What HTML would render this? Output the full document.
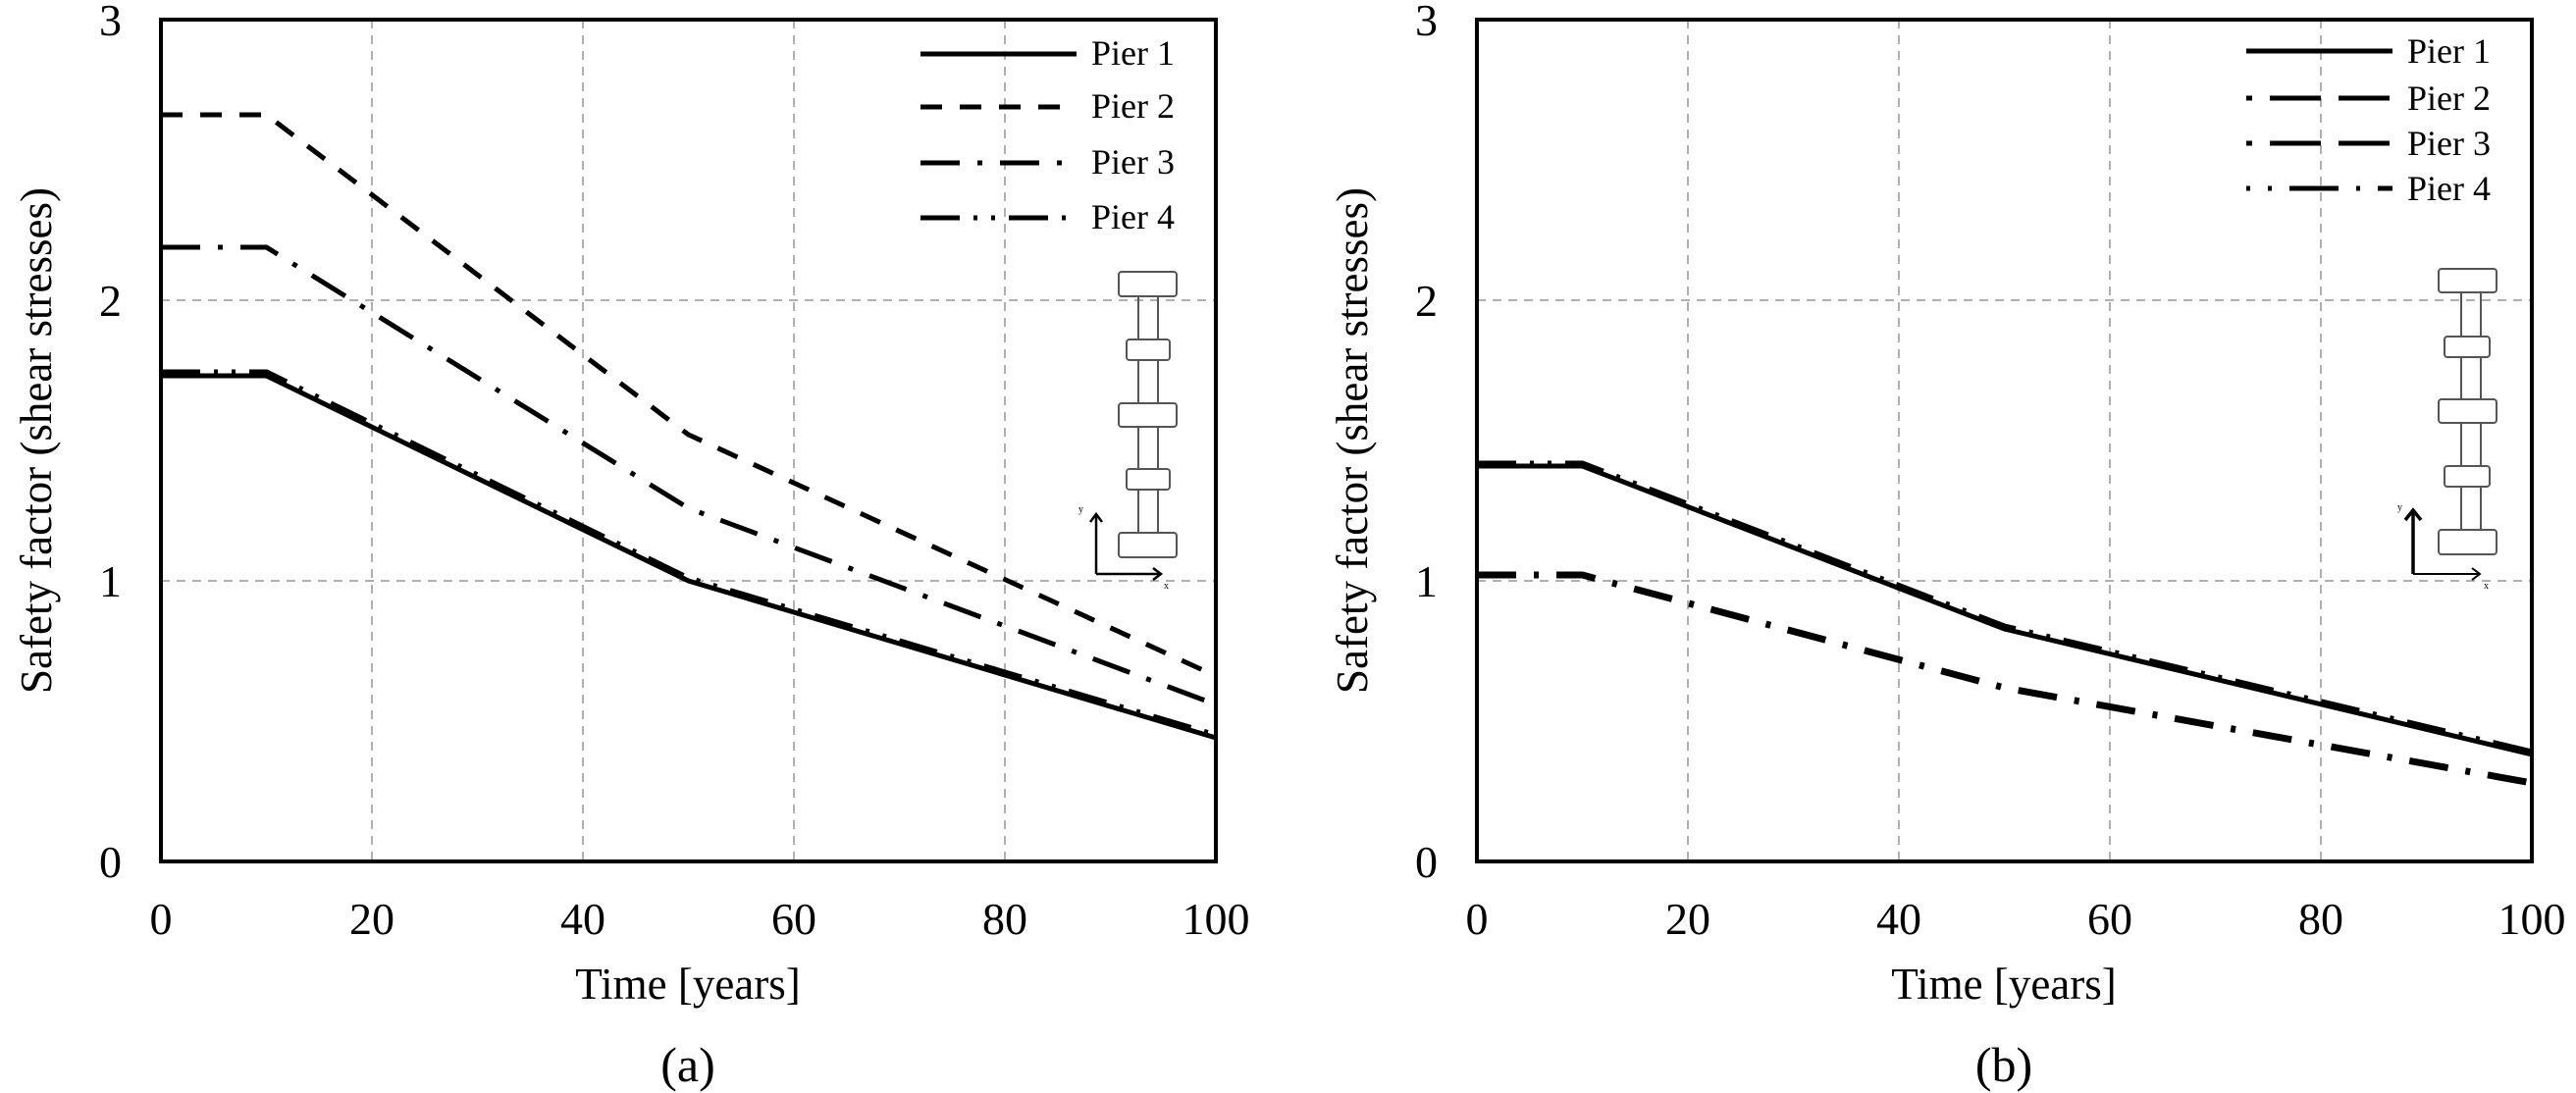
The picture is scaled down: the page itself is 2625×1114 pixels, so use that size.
<!DOCTYPE html>
<html><head><meta charset="utf-8"><style>
html,body{margin:0;padding:0;background:#fff;}
svg{display:block;}
text{font-family:"Liberation Serif",serif;fill:#000;}
</style></head><body>
<svg width="2625" height="1114" viewBox="0 0 2625 1114" xmlns="http://www.w3.org/2000/svg">
<defs>
<g id="grid">
  <g stroke="#b0b0b0" stroke-width="2" stroke-dasharray="9,7" fill="none">
    <line x1="215" y1="20" x2="215" y2="878"/>
    <line x1="430" y1="20" x2="430" y2="878"/>
    <line x1="645" y1="20" x2="645" y2="878"/>
    <line x1="860" y1="20" x2="860" y2="878"/>
    <line x1="0" y1="306" x2="1075" y2="306"/>
    <line x1="0" y1="592" x2="1075" y2="592"/>
  </g>
</g>
<g id="ticks">
  <g font-size="46" text-anchor="end">
    <text x="-40" y="894">0</text>
    <text x="-40" y="608">1</text>
    <text x="-40" y="322">2</text>
    <text x="-40" y="36">3</text>
  </g>
  <g font-size="46" text-anchor="middle">
    <text x="0" y="952">0</text>
    <text x="215" y="952">20</text>
    <text x="430" y="952">40</text>
    <text x="645" y="952">60</text>
    <text x="860" y="952">80</text>
    <text x="1075" y="952">100</text>
  </g>
  <text x="537" y="1018" font-size="45" text-anchor="middle">Time [years]</text>
  <text transform="translate(-112,449) rotate(-90)" font-size="45" text-anchor="middle">Safety factor (shear stresses)</text>
</g>
</defs>

<!-- LEFT PANEL -->
<g transform="translate(164,0)">
  <use href="#grid"/>
  <use href="#ticks"/>
  <!-- series: x scale 10.75/unit, y = 878-286*v -->
  <!-- Pier 2 -->
  <polyline fill="none" stroke="#000" stroke-width="5" stroke-dasharray="22,18" points="0,117 107.5,117 537.5,443 1075,689"/>
  <!-- Pier 3 -->
  <polyline fill="none" stroke="#000" stroke-width="5" stroke-dasharray="40,18,5,18" points="0,252 107.5,252 537.5,518 1075,718"/>
  <!-- Pier 1 -->
  <polyline fill="none" stroke="#000" stroke-width="5" points="0,383 107.5,383 537.5,592 1075,752"/>
  <!-- Pier 4 -->
  <polyline fill="none" stroke="#000" stroke-width="7" stroke-dasharray="40,14,4,14,4,14" points="0,380 107.5,380 537.5,590 1075,750"/>
  <rect x="0" y="20" width="1075" height="858" fill="none" stroke="#000" stroke-width="4"/>
  <text x="537" y="1102" font-size="50" text-anchor="middle">(a)</text>
  <!-- legend -->
  <g stroke="#000" stroke-width="5" fill="none">
    <line x1="774" y1="55" x2="933" y2="55"/>
    <line x1="774" y1="109" x2="933" y2="109" stroke-dasharray="22,18"/>
    <line x1="774" y1="166" x2="933" y2="166" stroke-dasharray="40,18,5,18"/>
    <line x1="774" y1="222" x2="933" y2="222" stroke-dasharray="40,14,4,14,4,14"/>
  </g>
  <g font-size="36">
    <text x="948" y="66">Pier 1</text>
    <text x="948" y="120">Pier 2</text>
    <text x="948" y="177">Pier 3</text>
    <text x="948" y="233">Pier 4</text>
  </g>
  <!-- pier icon -->
  <g stroke="#555" stroke-width="2" fill="#fff">
    <line x1="996" y1="300" x2="996" y2="545"/>
    <line x1="1016" y1="300" x2="1016" y2="545"/>
    <rect x="976" y="277" width="59" height="25" rx="3"/>
    <rect x="984" y="346" width="44" height="21" rx="3"/>
    <rect x="976" y="411" width="59" height="24" rx="3"/>
    <rect x="984" y="478" width="44" height="21" rx="3"/>
    <rect x="976" y="543" width="59" height="25" rx="3"/>
  </g>
  <g stroke="#000" stroke-width="2.5" fill="none">
    <polyline points="953,585 953,524"/>
    <polyline points="947,532 953,524 959,532"/>
    <polyline points="953,585 1019,585"/>
    <polyline points="1011,579 1019,585 1011,591"/>
  </g>
  <text x="935" y="522" font-size="10">y</text>
  <text x="1022" y="600" font-size="10">x</text>
</g>

<!-- RIGHT PANEL -->
<g transform="translate(1505,0)">
  <use href="#grid"/>
  <use href="#ticks"/>
  <!-- lower: Pier 2/3 -->
  <polyline fill="none" stroke="#000" stroke-width="7" stroke-dasharray="40,18,5,18" points="0,586 107.5,586 537.5,701 1075,798"/>
  <!-- upper: Pier 1/4 -->
  <polyline fill="none" stroke="#000" stroke-width="5" points="0,475 107.5,475 537.5,641 1075,769"/>
  <polyline fill="none" stroke="#000" stroke-width="7" stroke-dasharray="40,14,4,14,4,14" points="0,473 107.5,473 537.5,639 1075,767"/>
  <rect x="0" y="20" width="1075" height="858" fill="none" stroke="#000" stroke-width="4"/>
  <text x="537" y="1102" font-size="50" text-anchor="middle">(b)</text>
  <g stroke="#000" stroke-width="5" fill="none">
    <line x1="784" y1="52" x2="933" y2="52"/>
    <line x1="784" y1="100" x2="933" y2="100" stroke-dasharray="6,18,46,0"/>
    <line x1="784" y1="146" x2="933" y2="146" stroke-dasharray="6,18,46,0"/>
    <line x1="784" y1="192" x2="933" y2="192" stroke-dasharray="4,18,4,18,46,0"/>
  </g>
  <g font-size="36">
    <text x="948" y="64">Pier 1</text>
    <text x="948" y="112">Pier 2</text>
    <text x="948" y="158">Pier 3</text>
    <text x="948" y="204">Pier 4</text>
  </g>
  <g stroke="#555" stroke-width="2" fill="#fff">
    <line x1="1003" y1="296" x2="1003" y2="545"/>
    <line x1="1023" y1="296" x2="1023" y2="545"/>
    <rect x="980" y="274" width="59" height="24" rx="3"/>
    <rect x="986" y="343" width="46" height="21" rx="3"/>
    <rect x="980" y="407" width="59" height="24" rx="3"/>
    <rect x="986" y="475" width="46" height="21" rx="3"/>
    <rect x="980" y="540" width="59" height="25" rx="3"/>
  </g>
  <g stroke="#000" stroke-width="3.5" fill="none">
    <polyline points="954,585 954,520"/>
    <polyline points="946,530 954,520 962,530"/>
  </g>
  <g stroke="#000" stroke-width="2" fill="none">
    <polyline points="954,585 1022,585"/>
    <polyline points="1014,579 1022,585 1014,591"/>
  </g>
  <text x="938" y="520" font-size="10">y</text>
  <text x="1026" y="600" font-size="10">x</text>
</g>
</svg>
</body></html>
